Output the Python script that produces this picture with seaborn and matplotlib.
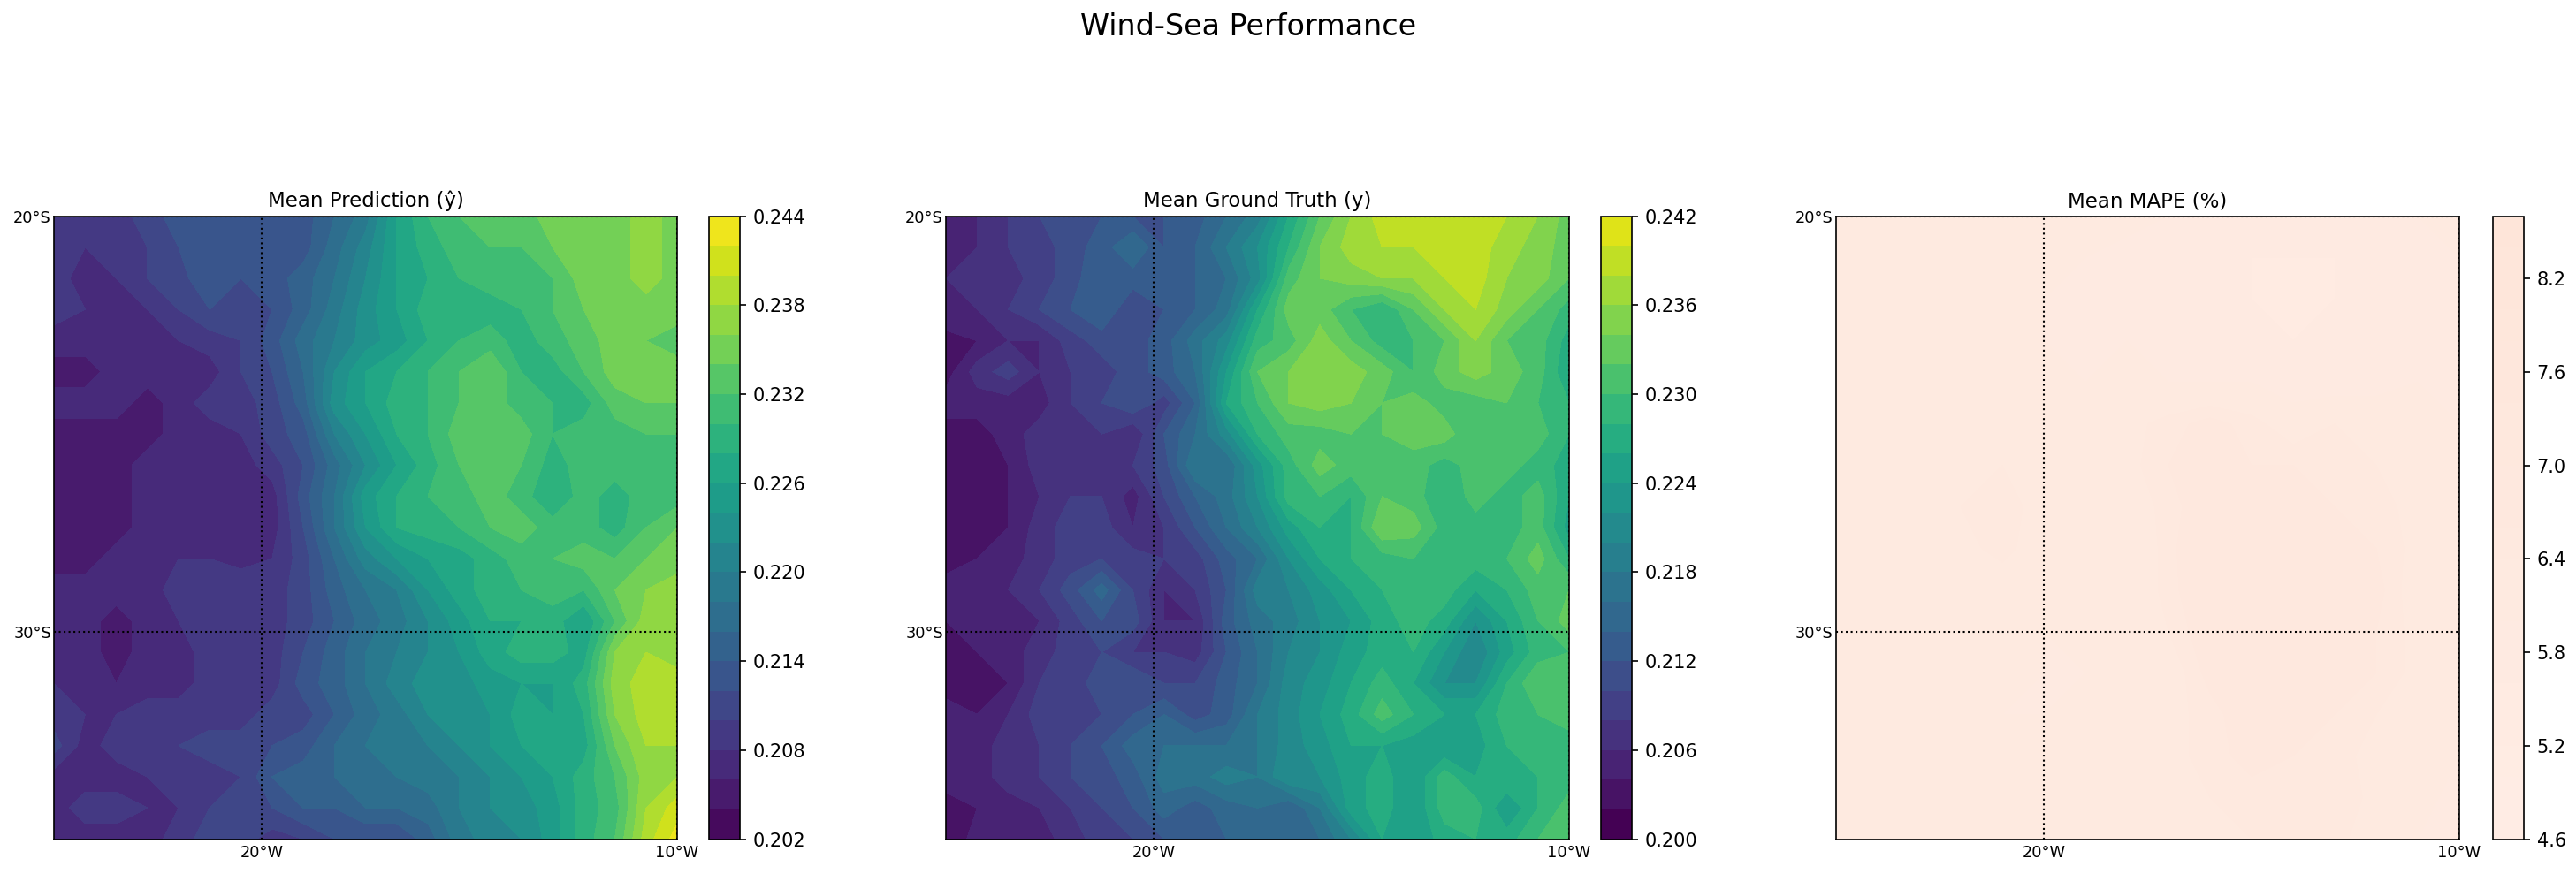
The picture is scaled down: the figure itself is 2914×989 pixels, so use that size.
import matplotlib
matplotlib.use('Agg')
import matplotlib.pyplot as plt
import numpy as np
import seaborn as sns

sns.set_style('white')
plt.rcParams['font.family'] = ['DejaVu Sans']
plt.rcParams['axes.edgecolor'] = 'black'
plt.rcParams['text.color'] = 'black'
plt.rcParams['xtick.color'] = 'black'
plt.rcParams['ytick.color'] = 'black'

# grid used for the two wave height maps (0.75 deg)
lons = [-25, -24.25, -23.5, -22.75, -22, -21.25, -20.5, -19.75, -19, -18.25, -17.5,
        -16.75, -16, -15.25, -14.5, -13.75, -13, -12.25, -11.5, -10.75, -10]
lats = [-20, -20.75, -21.5, -22.25, -23, -23.75, -24.5, -25.25, -26, -26.75, -27.5,
        -28.25, -29, -29.75, -30.5, -31.25, -32, -32.75, -33.5, -34.25, -35]

# coarser grid for MAPE, hardly any contrast there
mape_lons = [-25, -24, -23, -22, -21, -20, -19, -18, -17, -16, -15, -14, -13, -12, -11, -10]
mape_lats = [-20, -21, -22, -23, -24, -25, -26, -27, -28, -29, -30, -31, -32, -33, -34, -35]

pred_values = [
    [.209, .210, .209, .211, .213, .213, .214, .213, .213, .216, .219, .226, .230, .232, .233, .233, .235, .235, .235, .237, .235],
    [.209, .208, .209, .210, .212, .214, .213, .212, .213, .217, .221, .226, .229, .231, .232, .232, .234, .235, .235, .237, .235],
    [.209, .207, .208, .210, .211, .214, .212, .213, .215, .218, .222, .226, .228, .230, .231, .231, .232, .235, .235, .237, .235],
    [.209, .208, .207, .208, .210, .212, .212, .212, .215, .219, .223, .226, .229, .229, .229, .230, .232, .234, .235, .235, .235],
    [.207, .207, .206, .206, .208, .209, .210, .213, .217, .220, .223, .225, .228, .230, .231, .229, .231, .233, .235, .234, .233],
    [.205, .205, .207, .207, .208, .207, .210, .212, .216, .222, .226, .228, .230, .232, .234, .230, .229, .232, .235, .235, .235],
    [.207, .207, .207, .205, .207, .209, .209, .211, .215, .223, .226, .229, .230, .232, .233, .231, .230, .229, .233, .234, .234],
    [.205, .205, .205, .205, .207, .207, .208, .211, .213, .220, .224, .228, .230, .233, .232, .233, .230, .231, .231, .232, .232],
    [.205, .205, .205, .207, .206, .207, .207, .209, .212, .217, .222, .226, .229, .232, .233, .232, .229, .231, .231, .231, .231],
    [.205, .205, .205, .207, .208, .207, .207, .207, .213, .218, .225, .228, .230, .231, .233, .231, .228, .231, .229, .231, .231],
    [.205, .205, .205, .207, .208, .207, .207, .207, .212, .218, .224, .228, .229, .230, .232, .233, .231, .231, .229, .232, .234],
    [.205, .205, .207, .207, .208, .208, .207, .208, .211, .216, .221, .224, .226, .227, .229, .231, .232, .233, .232, .234, .235],
    [.207, .207, .207, .207, .209, .210, .210, .209, .211, .215, .218, .220, .224, .227, .229, .230, .231, .230, .234, .236, .237],
    [.207, .207, .205, .207, .208, .209, .210, .209, .211, .214, .217, .219, .222, .225, .228, .228, .229, .226, .232, .237, .238],
    [.207, .207, .205, .207, .207, .209, .209, .209, .212, .215, .218, .220, .222, .224, .227, .229, .229, .227, .236, .238, .237],
    [.208, .207, .206, .207, .207, .209, .210, .209, .213, .215, .218, .221, .223, .223, .225, .226, .226, .229, .237, .239, .239],
    [.209, .208, .208, .209, .209, .209, .209, .211, .211, .214, .217, .219, .222, .223, .224, .227, .226, .228, .236, .239, .239],
    [.211, .207, .209, .209, .210, .211, .211, .212, .213, .216, .218, .219, .220, .222, .224, .226, .227, .227, .234, .238, .238],
    [.207, .207, .207, .208, .210, .209, .210, .214, .215, .216, .217, .218, .219, .220, .222, .224, .226, .229, .232, .237, .238],
    [.207, .209, .209, .208, .208, .210, .212, .212, .214, .214, .216, .216, .217, .220, .222, .223, .225, .229, .231, .238, .241],
    [.207, .207, .207, .207, .209, .211, .211, .209, .210, .212, .212, .212, .215, .219, .221, .222, .225, .229, .232, .239, .243],
]

truth_values = [
    [.205, .206, .208, .210, .212, .212, .212, .212, .213, .216, .219, .226, .232, .236, .239, .239, .239, .239, .238, .236, .233],
    [.204, .206, .208, .209, .211, .213, .216, .212, .214, .218, .222, .228, .234, .237, .238, .238, .239, .239, .237, .235, .233],
    [.206, .207, .207, .209, .211, .214, .213, .213, .214, .216, .221, .231, .234, .235, .236, .236, .238, .239, .236, .235, .232],
    [.206, .206, .208, .210, .212, .214, .210, .212, .214, .217, .226, .233, .233, .230, .228, .232, .236, .238, .235, .232, .229],
    [.203, .204, .206, .206, .209, .211, .211, .213, .217, .221, .229, .231, .235, .232, .229, .230, .232, .236, .232, .231, .227],
    [.203, .207, .209, .206, .208, .209, .211, .213, .216, .224, .232, .234, .235, .235, .233, .230, .233, .235, .233, .231, .226],
    [.205, .205, .205, .205, .208, .210, .212, .209, .214, .226, .230, .234, .235, .234, .232, .233, .231, .231, .232, .230, .228],
    [.203, .203, .205, .207, .208, .208, .206, .212, .216, .221, .228, .231, .231, .232, .232, .233, .233, .230, .230, .231, .228],
    [.202, .203, .204, .207, .208, .206, .208, .211, .218, .216, .223, .229, .233, .231, .232, .231, .229, .231, .231, .229, .227],
    [.203, .203, .204, .206, .208, .208, .205, .210, .214, .217, .222, .229, .230, .228, .232, .231, .228, .231, .229, .231, .226],
    [.203, .203, .204, .207, .209, .209, .206, .208, .212, .216, .220, .225, .228, .228, .234, .233, .229, .229, .229, .231, .225],
    [.203, .204, .205, .207, .209, .210, .209, .208, .209, .213, .216, .222, .226, .228, .229, .230, .229, .229, .230, .233, .228],
    [.205, .205, .206, .208, .211, .215, .210, .206, .208, .212, .219, .220, .223, .226, .228, .229, .229, .226, .228, .231, .232],
    [.204, .205, .205, .206, .209, .212, .211, .206, .206, .213, .217, .219, .222, .224, .227, .229, .227, .222, .226, .230, .233],
    [.204, .204, .205, .207, .209, .210, .208, .208, .207, .212, .216, .220, .222, .225, .227, .228, .224, .220, .225, .229, .230],
    [.203, .203, .204, .208, .209, .211, .212, .210, .210, .213, .216, .221, .223, .226, .229, .226, .222, .222, .228, .232, .232],
    [.205, .204, .206, .209, .209, .210, .212, .214, .211, .213, .218, .221, .224, .227, .231, .228, .226, .226, .229, .230, .231],
    [.205, .205, .207, .208, .210, .212, .215, .216, .216, .216, .218, .221, .223, .226, .226, .225, .224, .225, .228, .229, .229],
    [.205, .205, .207, .208, .210, .211, .213, .217, .217, .219, .218, .222, .222, .225, .227, .224, .229, .226, .228, .228, .229],
    [.203, .204, .205, .206, .208, .210, .212, .215, .213, .215, .216, .214, .218, .225, .227, .224, .229, .229, .224, .228, .231],
    [.202, .205, .206, .205, .207, .209, .210, .212, .213, .214, .215, .216, .216, .220, .226, .224, .227, .228, .227, .230, .232],
]

mape_values = [
    [6.2, 6.2, 6.2, 6.2, 6.2, 6.2, 6.1, 6.1, 6.0, 5.9, 5.8, 5.7, 5.7, 5.8, 6.0, 6.2],
    [6.2, 6.1, 6.1, 6.1, 6.1, 6.1, 6.0, 5.9, 5.7, 5.7, 5.6, 5.6, 5.6, 5.7, 5.8, 6.0],
    [6.3, 6.2, 6.1, 6.1, 6.1, 6.0, 6.0, 5.9, 5.7, 5.7, 5.6, 5.5, 5.6, 5.7, 5.8, 6.0],
    [6.4, 6.3, 6.2, 6.2, 6.1, 6.0, 6.0, 6.0, 5.9, 5.8, 5.7, 5.6, 5.7, 5.7, 5.9, 6.0],
    [6.2, 6.3, 6.3, 6.2, 6.1, 6.1, 6.0, 6.1, 6.0, 6.0, 6.0, 5.8, 5.8, 5.9, 6.0, 6.0],
    [6.2, 6.2, 6.3, 6.3, 6.2, 6.1, 6.1, 6.3, 6.5, 6.7, 6.5, 6.2, 6.4, 6.2, 6.1, 6.0],
    [6.2, 6.2, 6.2, 6.4, 6.4, 6.2, 6.1, 6.3, 6.6, 6.7, 6.6, 6.6, 6.6, 6.4, 6.2, 6.1],
    [6.1, 6.2, 6.2, 6.4, 6.6, 6.2, 6.1, 6.2, 6.5, 6.8, 6.9, 6.7, 6.6, 6.5, 6.3, 6.1],
    [6.1, 6.1, 6.2, 6.3, 6.5, 6.2, 6.0, 6.1, 6.5, 7.0, 7.0, 6.9, 6.8, 6.6, 6.3, 6.1],
    [6.2, 6.1, 6.1, 6.2, 6.2, 6.1, 6.0, 6.1, 6.5, 6.9, 7.0, 7.0, 6.9, 6.7, 6.2, 6.1],
    [6.3, 6.2, 6.2, 6.2, 6.1, 6.0, 6.2, 6.2, 6.4, 6.8, 6.9, 7.0, 6.9, 6.6, 6.3, 6.1],
    [6.4, 6.4, 6.3, 6.2, 6.1, 6.0, 6.0, 6.2, 6.2, 6.7, 6.9, 6.9, 6.9, 6.6, 6.3, 6.2],
    [6.3, 6.3, 6.2, 6.1, 6.0, 6.0, 6.1, 6.2, 6.3, 6.5, 6.8, 6.7, 6.6, 6.4, 6.2, 6.1],
    [6.3, 6.2, 6.2, 6.2, 6.1, 6.1, 6.1, 6.3, 6.3, 6.5, 6.7, 6.6, 6.5, 6.3, 6.2, 6.0],
    [6.3, 6.2, 6.1, 6.2, 6.1, 6.1, 6.1, 6.4, 6.4, 6.4, 6.5, 6.6, 6.6, 6.3, 6.1, 5.9],
    [6.3, 6.2, 6.1, 6.2, 6.3, 6.1, 6.0, 6.4, 6.3, 6.3, 6.4, 6.4, 6.5, 6.2, 6.0, 5.9],
]

panel_titles = ['Mean Prediction (ŷ)', 'Mean Ground Truth (y)', 'Mean MAPE (%)']
pred_ticks = [.202, .208, .214, .220, .226, .232, .238, .244]
truth_ticks = [.200, .206, .212, .218, .224, .230, .236, .242]
mape_ticks = [4.6, 5.2, 5.8, 6.4, 7.0, 7.6, 8.2]

W, H = 2914, 989
fig = plt.figure(figsize=(W / 150, H / 150), dpi=150)
fig.suptitle('Wind-Sea Performance', fontsize=16, x=1412 / W, y=1 - 30 / H, va='center')

viridis = sns.color_palette('viridis', as_cmap=True)
reds = sns.color_palette('Reds', as_cmap=True)


def draw_panel(x, y, values, title, levels, ticks, cmap, ax_left, cb_left, fmt, **kw):
    ax = fig.add_axes([ax_left / W, 1 - 949.5 / H, 705 / W, 705 / H])
    cax = fig.add_axes([cb_left / W, 1 - 949.5 / H, 35 / W, 705 / H])
    cf = ax.contourf(x, y, np.array(values), levels=levels, cmap=cmap, **kw)
    ax.set_xlim(-25, -10)
    ax.set_ylim(-35, -20)
    ax.set_xticks([-20, -10], ['20°W', '10°W'])
    ax.set_yticks([-20, -30], ['20°S', '30°S'])
    ax.tick_params(length=0, labelsize=8.5, pad=3)
    ax.tick_params(axis='y', pad=1.5)
    ax.grid(True, color='black', linestyle=':', linewidth=1)
    ax.set_axisbelow(False)
    ax.set_title(title, fontsize=11, pad=5)
    cb = fig.colorbar(cf, cax=cax, ticks=ticks)
    cb.ax.set_yticklabels([fmt % t for t in ticks])
    cb.ax.tick_params(length=3.5, width=0.8, labelsize=10, right=True)
    return ax


draw_panel(lons, lats, pred_values, panel_titles[0], np.arange(.202, .2441, .002), pred_ticks, viridis, 61, 802, '%.3f')
draw_panel(lons, lats, truth_values, panel_titles[1], np.arange(.200, .2421, .002), truth_ticks, viridis, 1070, 1811, '%.3f', vmin=.201, vmax=.243)
draw_panel(mape_lons, mape_lats, mape_values, panel_titles[2], np.arange(4.6, 8.61, .2), mape_ticks, reds, 2077, 2820, '%.1f', vmin=0, vmax=90)

fig.savefig('out.png', dpi=150)
